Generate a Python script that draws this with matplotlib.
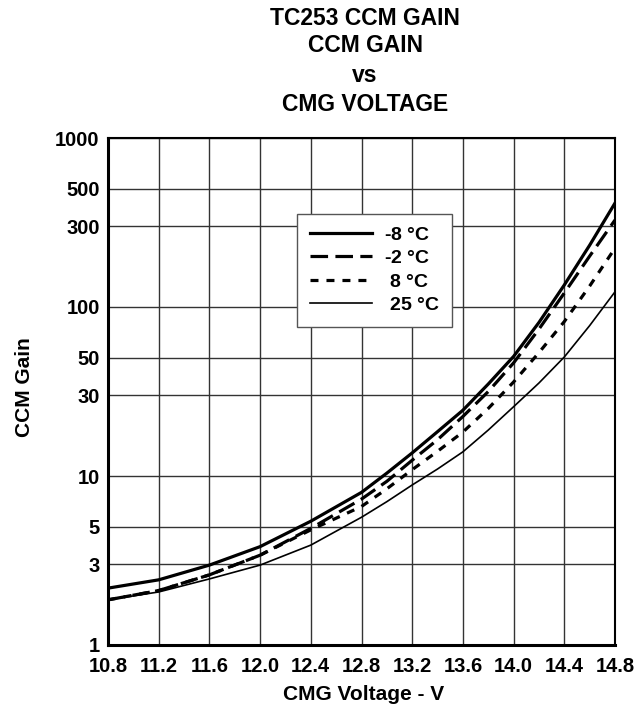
import matplotlib
matplotlib.use('Agg')
import matplotlib.pyplot as plt
import numpy as np

plt.rcParams['font.family'] = ['Liberation Sans', 'DejaVu Sans']
plt.rcParams['font.weight'] = 'bold'
plt.rcParams['mathtext.fontset'] = 'custom'
plt.rcParams['mathtext.rm'] = 'Liberation Sans'

# Данные
voltage = [10.8, 11.2, 11.6, 12.0, 12.4, 12.8, 13.0, 13.2, 13.4, 13.6, 13.8, 14.0, 14.2, 14.4, 14.6, 14.8]
gain_m8 = [2.17, 2.43, 2.97, 3.82, 5.4, 8.0, 10.4, 13.7, 18.3, 24.5, 35, 51, 81, 135, 232, 412]
gain_m2 = [1.85, 2.1, 2.6, 3.4, 4.9, 7.3, 9.3, 12.4, 16.4, 22.5, 31.6, 46.7, 74, 121, 200, 327]
gain_p8 = [1.85, 2.1, 2.6, 3.4, 4.8, 6.6, 8.4, 10.9, 14.0, 18.2, 25.1, 36, 53.7, 82, 133, 223]
gain_p25 = [1.85, 2.06, 2.46, 2.97, 3.9, 5.7, 7.05, 8.85, 11.0, 13.9, 18.7, 25.7, 35.5, 50.6, 77.6, 123]

x_ticks = [10.8, 11.2, 11.6, 12.0, 12.4, 12.8, 13.2, 13.6, 14.0, 14.4, 14.8]
y_ticks = [1, 3, 5, 10, 30, 50, 100, 300, 500, 1000]

title_lines = ['TC253 CCM GAIN', 'CCM GAIN', 'vs', 'CMG VOLTAGE']

fig = plt.figure(figsize=(6.38, 7.11), dpi=100)
ax = fig.add_axes([108 / 638, 66 / 711, 507 / 638, 507 / 711])

deg = r'$\mathrm{°}$'
ax.plot(voltage, gain_m8, color='black', lw=2.3, label='-8 ' + deg + 'C')
ax.plot(voltage, gain_m2, color='black', lw=2.3, dashes=(5.5, 2.3), label='-2 ' + deg + 'C')
ax.plot(voltage, gain_p8, color='black', lw=2.3, dashes=(2.5, 2.5), label=' 8 ' + deg + 'C')
ax.plot(voltage, gain_p25, color='black', lw=1.2, label=' 25 ' + deg + 'C')

ax.set_yscale('log')
ax.set_xlim(10.8, 14.8)
ax.set_ylim(1, 1000)
ax.set_xticks(x_ticks)
ax.set_xticklabels(['%.1f' % v for v in x_ticks])
ax.set_yticks(y_ticks)
ax.set_yticklabels([str(v) for v in y_ticks])
ax.yaxis.set_minor_locator(matplotlib.ticker.NullLocator())
ax.tick_params(axis='both', length=0, labelsize=14.5)
ax.tick_params(axis='x', pad=9)
ax.tick_params(axis='y', pad=6)
ax.grid(True, color='#333333', lw=1.0)

for side in ['left', 'bottom']:
    ax.spines[side].set_linewidth(2.2)
for side in ['top', 'right']:
    ax.spines[side].set_linewidth(1.5)

leg = ax.legend(loc='upper left', bbox_to_anchor=(0.373, 0.851), fontsize=14,
                handlelength=3.2, frameon=True, fancybox=False, framealpha=1,
                borderpad=0.65, labelspacing=0.3, handletextpad=0.6, borderaxespad=0)
leg.get_frame().set_edgecolor('#555555')
leg.get_frame().set_linewidth(1.0)

title_y = [25, 52, 82, 111]
for line, y in zip(title_lines, title_y):
    fig.text(365 / 638, 1 - y / 711, line, ha='center', va='baseline', fontsize=16.5, fontweight='bold')

fig.text(364 / 638, 1 - 694 / 711, 'CMG Voltage - V', ha='center', va='center', fontsize=15, fontweight='bold')
fig.text(25 / 638, 1 - 387 / 711, 'CCM Gain', ha='center', va='center', rotation=90, fontsize=15, fontweight='bold')

fig.savefig('out.png', dpi=100)
